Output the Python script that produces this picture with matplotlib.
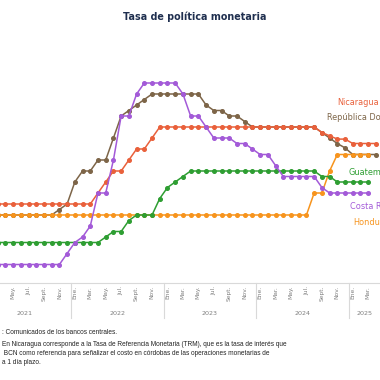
import matplotlib.pyplot as plt
import matplotlib.transforms as mtransforms

# monthly series, starting Ene. 2021
meses = ["Ene.", "Feb.", "Mar.", "Abr.", "May.", "Jun.", "Jul.", "Ago.", "Sept.", "Oct.", "Nov.", "Dic."]
anios = ["2021", "2022", "2023", "2024", "2025"]

nicaragua = [3.5] * 15 + [4.0, 4.5, 5.0, 5.0, 5.5, 6.0, 6.0, 6.5] + [7.0] * 21 + \
    [6.75, 6.6, 6.45, 6.45] + [6.25] * 4
rep_dominicana = [3.0] * 10 + [3.25, 3.5, 4.5, 5.0, 5.0, 5.5, 5.5, 6.5, 7.5, 7.75, 8.0, 8.25] + \
    [8.5] * 7 + [8.0, 7.75, 7.75, 7.5, 7.5, 7.25] + [7.0] * 9 + [6.75, 6.5, 6.25, 6.05] + [5.75] * 4
costa_rica = [0.75] * 11 + [1.25, 1.75, 2.0, 2.5, 4.0, 4.0, 5.5, 7.5, 7.5, 8.5] + [9.0] * 5 + \
    [8.5, 7.5, 7.5, 7.0, 6.5, 6.5, 6.5, 6.25, 6.25, 6.0, 5.75, 5.75, 5.25] + [4.75] * 5 + [4.25] + [4.0] * 6
guatemala = [1.75] * 16 + [2.0, 2.25, 2.25, 2.75, 3.0, 3.0, 3.0, 3.75, 4.25, 4.5, 4.75] + [5.0] * 17 + \
    [4.75, 4.75] + [4.5] * 5
honduras = [3.0] * 43 + [4.0, 4.0, 5.0] + [5.75] * 5

# (name, values, colour, label x, label y) -- drawn in this order
series = [
    ("República Dominicana", rep_dominicana, "#7d6548", 44.65, 7.42),
    ("Honduras", honduras, "#f7941d", 48.0, 2.68),
    ("Nicaragua", nicaragua, "#e9603b", 46.05, 8.1),
    ("Guatemala", guatemala, "#2e9e32", 47.5, 4.91),
    ("Costa Rica", costa_rica, "#a35ad8", 47.6, 3.38),
]

W, H = 380, 380
fig = plt.figure(figsize=(W / 100, H / 100), dpi=100)

# plot area: pixel x = -17.8 + 7.72*m, pixel y = 281 - 22*v
x0, dx = -17.8, 7.72
ax_top, ax_bot = 60, 283
ax = fig.add_axes([0, (H - ax_bot) / H, 1, (ax_bot - ax_top) / H])

for name, vals, col, lx, ly in series:
    ax.plot(range(len(vals)), vals, color=col, lw=1.1, marker="o", ms=2.6,
            mec=col, mfc=col, clip_on=False, zorder=3)
    ax.text(lx, ly, name, color=col, fontsize=5.9, va="center", ha="left", clip_on=False)

for s in ["top", "left", "right"]:
    ax.spines[s].set_visible(False)
ax.spines["bottom"].set_color("#d9d9d9")
ax.spines["bottom"].set_linewidth(0.8)
ax.set_yticks([])

n = 52
ticks = list(range(0, n, 2))
ax.set_xticks(ticks)
ax.set_xticklabels([meses[t % 12] for t in ticks], rotation=90, fontsize=4.3, color="#7f7f7f")
ax.tick_params(axis="x", length=0, pad=2)

# limits after the ticks, so set_xticks does not widen them
ax.set_xlim((0 - x0) / dx, (W - x0) / dx)
ax.set_ylim((281 - ax_bot) / 22, (281 - ax_top) / 22)

trans = mtransforms.blended_transform_factory(ax.transData, ax.transAxes)
for i, a in enumerate(anios):
    sep = 12 * i - 0.5
    ax.plot([sep, sep], [0, -0.157], color="#d9d9d9", lw=0.8, transform=trans, clip_on=False)
    end = min(12 * i + 11.5, n - 0.5)
    ax.text((sep + end) / 2, -0.135, a, transform=trans, ha="center", va="center",
            fontsize=4.6, color="#7f7f7f")
ax.set_xlim((0 - x0) / dx, (W - x0) / dx)

fig.text(195 / W, 1 - 17 / H, "Tasa de política monetaria", ha="center", va="center",
         fontsize=6.9, fontweight="bold", color="#1f2f4f")

notas = [
    (332, ": Comunicados de los bancos centrales."),
    (345, "En Nicaragua corresponde a la Tasa de Referencia Monetaria (TRM), que es la tasa de interés que"),
    (353.5, " BCN como referencia para señalizar el costo en córdobas de las operaciones monetarias de"),
    (362, "a 1 día plazo."),
]
for y, t in notas:
    fig.text(2 / W, 1 - y / H, t, ha="left", va="center", fontsize=4.7,
             family="Liberation Sans", color="#222222")

fig.savefig("out.png", dpi=100)
